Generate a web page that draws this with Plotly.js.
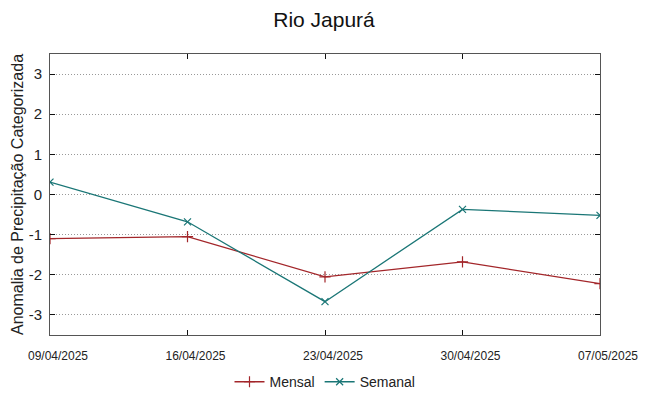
<!DOCTYPE html>
<html>
<head>
<meta charset="utf-8">
<script src="https://cdn.plot.ly/plotly-3.0.1.min.js"></script>
<style>html,body{margin:0;padding:0;background:#fff}#chart{width:648px;height:396px}</style>
</head>
<body>
<div id="chart"></div>
<script>
const dates = ['2025-04-09', '2025-04-16', '2025-04-23', '2025-04-30', '2025-05-07'];
const tickLabels = ['09/04/2025', '16/04/2025', '23/04/2025', '30/04/2025', '07/05/2025'];
const mensal = [-1.10, -1.05, -2.05, -1.68, -2.22];
const semanal = [0.31, -0.68, -2.67, -0.37, -0.52];
const yTicks = [-3, -2, -1, 0, 1, 2, 3];
const yTickLabels = ['-3', '-2', '-1', '0', '1', '2', '3'];

const traces = [
  {
    x: dates, y: mensal, name: 'Mensal', type: 'scatter', mode: 'lines+markers',
    line: {color: '#a3262a', width: 1.3},
    marker: {symbol: 'cross-thin-open', size: 8, color: '#a3262a', line: {color: '#a3262a', width: 1.2}}
  },
  {
    x: dates, y: semanal, name: 'Semanal', type: 'scatter', mode: 'lines+markers',
    line: {color: '#1a7676', width: 1.3},
    marker: {symbol: 'x-thin-open', size: 7, color: '#1a7676', line: {color: '#1a7676', width: 1.2}}
  }
];

const layout = {
  width: 648, height: 396,
  margin: {l: 50, r: 48, t: 54, b: 61, autoexpand: false},
  paper_bgcolor: '#fff', plot_bgcolor: '#fff',
  font: {family: '"Liberation Sans", Arial, sans-serif', color: '#222'},
  title: {text: 'Rio Japurá', font: {size: 21, color: '#111'}, x: 0.5, xanchor: 'center', y: 0.95, yanchor: 'middle', yref: 'container'},
  xaxis: {
    type: 'date', range: [dates[0], dates[dates.length - 1]],
    tickvals: dates, ticktext: tickLabels, tickfont: {size: 12, color: '#222'},
    showgrid: false, zeroline: false, automargin: false,
    showline: true, linecolor: '#555', linewidth: 1, mirror: 'allticks',
    ticks: 'inside', ticklen: 5, tickcolor: '#111', tickwidth: 1,
    ticklabelstandoff: 10, ticklabelshift: 8
  },
  yaxis: {
    range: [-3.5, 3.5], tickvals: yTicks, ticktext: yTickLabels, tickfont: {size: 15, color: '#222'},
    showgrid: true, gridcolor: '#999999', griddash: '1px,2px', gridwidth: 1,
    zeroline: false, automargin: false,
    showline: true, linecolor: '#555', linewidth: 1, mirror: 'allticks',
    ticks: 'inside', ticklen: 5, tickcolor: '#111', tickwidth: 1,
    ticklabelstandoff: 4,
    title: {text: 'Anomalia de Precipitação Categorizada', font: {size: 16, color: '#222'}, standoff: 1}
  },
  showlegend: true,
  legend: {orientation: 'h', x: 0.5, xanchor: 'center', xref: 'paper', y: 0.035, yanchor: 'middle', yref: 'container', font: {size: 14, color: '#222'}, bgcolor: 'rgba(0,0,0,0)'}
};

Plotly.newPlot('chart', traces, layout, {displayModeBar: false, staticPlot: true});
</script>
</body>
</html>
